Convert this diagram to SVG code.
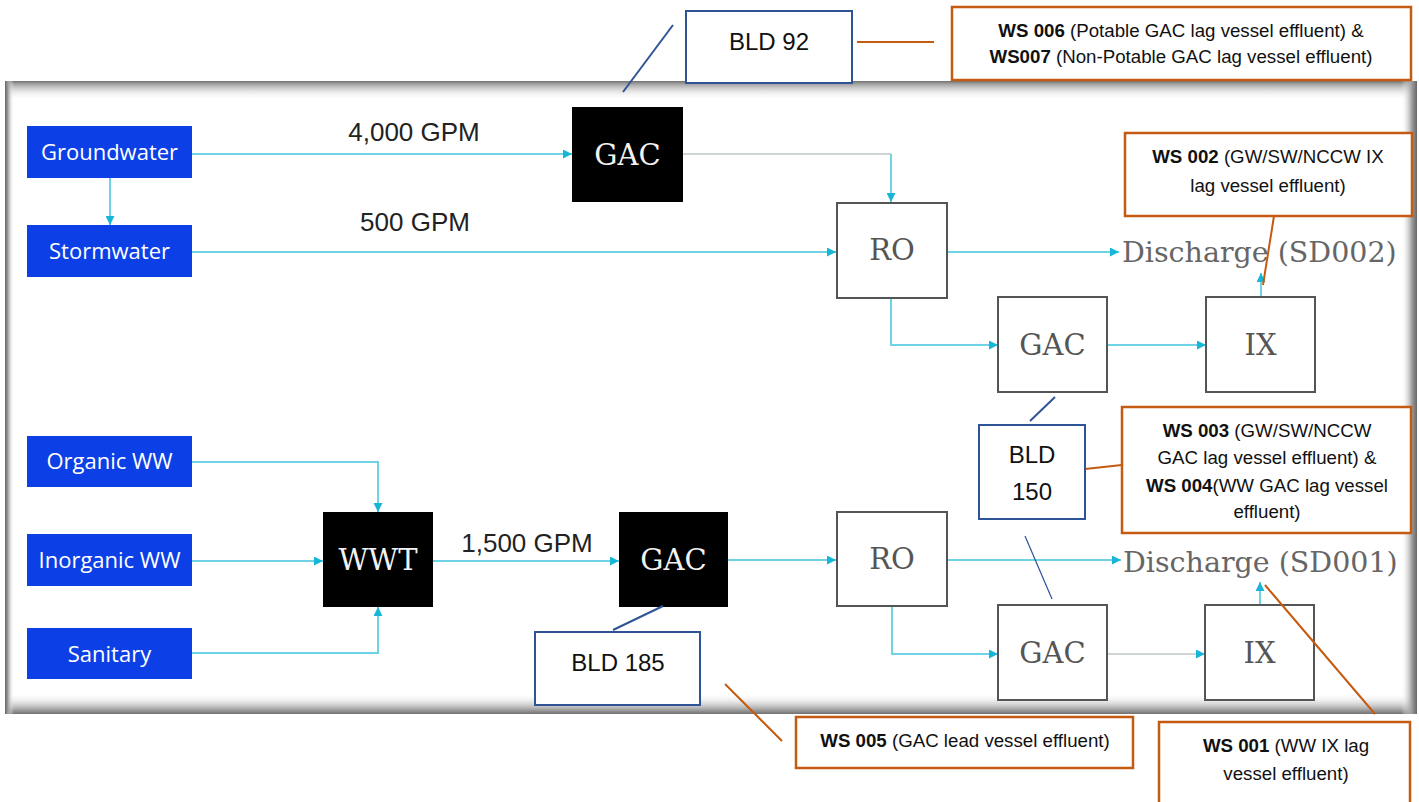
<svg xmlns="http://www.w3.org/2000/svg" width="1419" height="802" viewBox="0 0 1419 802">
<style>
.src rect{fill:#0c40e6}
.src text{fill:#fff;font-family:"Open Sans","Liberation Sans",sans-serif;font-size:22px;text-anchor:middle}
.blk rect{fill:#000}
.blk text{fill:#f2f2f2;font-family:"DejaVu Serif","Liberation Serif",serif;font-size:29px;text-anchor:middle}
.wht rect{fill:#fff;stroke:#555;stroke-width:2}
.wht text{fill:#555;font-family:"DejaVu Serif","Liberation Serif",serif;font-size:29px;text-anchor:middle}
.dis{fill:#666;font-family:"DejaVu Serif","Liberation Serif",serif;font-size:28.5px}
.gpm{fill:#222;font-family:"Liberation Sans",Arial,sans-serif;font-size:26px;text-anchor:middle}
.bld rect{fill:#fff;stroke:#2f5496;stroke-width:2}
.bld text{fill:#111;font-family:"Liberation Sans",Arial,sans-serif;font-size:24px;text-anchor:middle}
.ws rect{fill:#fff;stroke:#c55a11;stroke-width:2.5}
.ws text{fill:#111;font-family:"Liberation Sans",Arial,sans-serif;font-size:18.7px;text-anchor:middle}
.ws tspan.b{font-weight:bold}
.flow path{fill:none;stroke:#6fd3e6;stroke-width:2;marker-end:url(#arr)}
.flow path.gray{stroke:#cfd4d6}
.flow path.nomark{marker-end:none}
.lead line{stroke-width:2}
.lead .bl{stroke:#2f5496}
.lead .or{stroke:#c55a11}
</style>
<defs>
<marker id="arr" markerUnits="userSpaceOnUse" markerWidth="9" markerHeight="9" refX="9" refY="4.5" orient="auto">
<path d="M0,0 L9,4.5 L0,9 z" fill="#17b6d6"/>
</marker>
<linearGradient id="gTop" x1="0" y1="0" x2="0" y2="1">
<stop offset="0" stop-color="#707070"/><stop offset="0.15" stop-color="#a0a0a0"/><stop offset="1" stop-color="#fff" stop-opacity="0"/>
</linearGradient>
<linearGradient id="gBot" x1="0" y1="1" x2="0" y2="0">
<stop offset="0" stop-color="#707070"/><stop offset="0.2" stop-color="#a0a0a0"/><stop offset="1" stop-color="#fff" stop-opacity="0"/>
</linearGradient>
<linearGradient id="gLeft" x1="0" y1="0" x2="1" y2="0">
<stop offset="0" stop-color="#666"/><stop offset="0.3" stop-color="#999"/><stop offset="1" stop-color="#fff" stop-opacity="0"/>
</linearGradient>
<linearGradient id="gRight" x1="1" y1="0" x2="0" y2="0">
<stop offset="0" stop-color="#666"/><stop offset="0.3" stop-color="#999"/><stop offset="1" stop-color="#fff" stop-opacity="0"/>
</linearGradient>
</defs>
<rect x="0" y="0" width="1419" height="802" fill="#fff"/>
<g id="panel">
<rect x="5" y="81" width="1412" height="633" fill="#fff"/>
<rect x="5" y="81" width="1412" height="19" fill="url(#gTop)"/>
<rect x="5" y="693" width="1412" height="21" fill="url(#gBot)"/>
<rect x="5" y="81" width="9" height="633" fill="url(#gLeft)"/>
<rect x="1401" y="81" width="16" height="633" fill="url(#gRight)"/>
</g>
<g id="connectors" class="flow">
<path d="M110,178 V225"/>
<path d="M192,154 H572"/>
<path class="gray nomark" d="M683,154 H891"/>
<path d="M891,154 V202"/>
<path d="M192,252 H836"/>
<path d="M947,252 H1119"/>
<path d="M891,298 V345 H998"/>
<path d="M1107,345 H1206"/>
<path d="M1261,297 V273"/>
<path d="M192,462 H378 V512"/>
<path d="M192,561 H323"/>
<path d="M192,653 H378 V607"/>
<path d="M433,561 H619"/>
<path d="M728,560 H836"/>
<path d="M947,560 H1121"/>
<path d="M892,605 V654 H998"/>
<path class="gray" d="M1107,654 H1205"/>
<path d="M1260,605 V582"/>
</g>
<text class="gpm" x="414" y="141">4,000 GPM</text>
<text class="gpm" x="415" y="231">500 GPM</text>
<text class="gpm" x="527" y="552">1,500 GPM</text>
<text class="dis" x="1122" y="262">Discharge (SD002)</text>
<text class="dis" x="1123" y="572">Discharge (SD001)</text>
<g id="groundwater" class="src"><rect x="27" y="126" width="165" height="52"/><text x="109.5" y="160">Groundwater</text></g>
<g id="stormwater" class="src"><rect x="27" y="225" width="165" height="52"/><text x="109.5" y="259">Stormwater</text></g>
<g id="organic" class="src"><rect x="27" y="436" width="165" height="51"/><text x="109.5" y="469">Organic WW</text></g>
<g id="inorganic" class="src"><rect x="27" y="534" width="165" height="52"/><text x="109.5" y="568">Inorganic WW</text></g>
<g id="sanitary" class="src"><rect x="27" y="628" width="165" height="51"/><text x="109.5" y="662">Sanitary</text></g>
<g id="gac1" class="blk"><rect x="572" y="107" width="111" height="95"/><text x="627.5" y="165">GAC</text></g>
<g id="wwt" class="blk"><rect x="323" y="512" width="110" height="95"/><text x="378" y="570">WWT</text></g>
<g id="gac2" class="blk"><rect x="619" y="512" width="109" height="95"/><text x="673.5" y="570">GAC</text></g>
<g id="ro1" class="wht"><rect x="837" y="203" width="110" height="95"/><text x="892" y="260">RO</text></g>
<g id="gac3" class="wht"><rect x="998" y="297" width="109" height="95"/><text x="1052.5" y="355">GAC</text></g>
<g id="ix1" class="wht"><rect x="1206" y="297" width="109" height="95"/><text x="1260.5" y="355">IX</text></g>
<g id="ro2" class="wht"><rect x="837" y="512" width="110" height="94"/><text x="892" y="569">RO</text></g>
<g id="gac4" class="wht"><rect x="998" y="605" width="109" height="95"/><text x="1052.5" y="663">GAC</text></g>
<g id="ix2" class="wht"><rect x="1205" y="605" width="109" height="95"/><text x="1259.5" y="663">IX</text></g>
<g id="leaders" class="lead">
<line class="bl" x1="673" y1="25" x2="623" y2="92"/>
<line class="bl" x1="1055" y1="397" x2="1030" y2="421"/>
<line class="bl" x1="1025" y1="536" x2="1052" y2="599" style="stroke-width:1.2"/>
<line class="bl" x1="613" y1="630" x2="663" y2="606"/>
<line class="or" x1="857" y1="42" x2="934" y2="42"/>
<line class="or" x1="1274" y1="216" x2="1263" y2="285"/>
<line class="or" x1="1085" y1="469" x2="1122" y2="465"/>
<line class="or" x1="725" y1="684" x2="782" y2="741"/>
<line class="or" x1="1265" y1="585" x2="1375" y2="714"/>
</g>
<g id="bld92" class="bld"><rect x="686" y="11" width="166" height="72"/><text x="769" y="50">BLD 92</text></g>
<g id="bld150" class="bld"><rect x="979" y="425" width="106" height="94"/><text x="1032" y="463">BLD</text><text x="1032" y="500">150</text></g>
<g id="bld185" class="bld"><rect x="535" y="632" width="165" height="73"/><text x="618" y="671">BLD 185</text></g>
<g id="ws006" class="ws"><rect x="952" y="7" width="459" height="73"/>
<text x="1181" y="37"><tspan class="b">WS 006</tspan> (Potable GAC lag vessel effluent) &amp;</text>
<text x="1181" y="63"><tspan class="b">WS007</tspan> (Non-Potable GAC lag vessel effluent)</text></g>
<g id="ws002" class="ws"><rect x="1125" y="133" width="287" height="83"/>
<text x="1268" y="163"><tspan class="b">WS 002</tspan> (GW/SW/NCCW IX</text>
<text x="1268" y="192">lag vessel effluent)</text></g>
<g id="ws003" class="ws"><rect x="1122" y="407" width="289" height="126"/>
<text x="1267" y="437"><tspan class="b">WS 003</tspan> (GW/SW/NCCW</text>
<text x="1267" y="464">GAC lag vessel effluent) &amp;</text>
<text x="1267" y="492"><tspan class="b">WS 004</tspan>(WW GAC lag vessel</text>
<text x="1267" y="518">effluent)</text></g>
<g id="ws005" class="ws"><rect x="796" y="717" width="337" height="51"/>
<text x="965" y="747"><tspan class="b">WS 005</tspan> (GAC lead vessel effluent)</text></g>
<g id="ws001" class="ws"><rect x="1159" y="722" width="251" height="95"/>
<text x="1286" y="752"><tspan class="b">WS 001</tspan> (WW IX lag</text>
<text x="1286" y="780">vessel effluent)</text></g>
</svg>
